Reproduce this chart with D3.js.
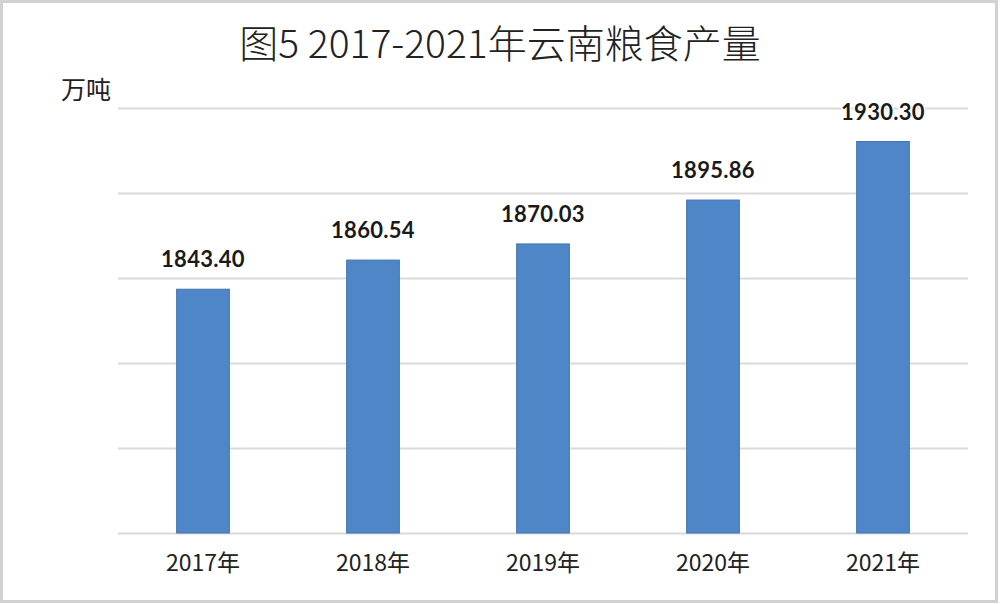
<!DOCTYPE html>
<html>
<head>
<meta charset="utf-8">
<script src="https://cdn.jsdelivr.net/npm/d3@7"></script>
<style>
  body { margin: 0; background: #fff; }
  svg { display: block; }
</style>
</head>
<body>
<div id="chart"></div>
<script>
// data
const years = ["2017年", "2018年", "2019年", "2020年", "2021年"];
const output = [1843.40, 1860.54, 1870.03, 1895.86, 1930.30];
const yTicks = [1700, 1750, 1800, 1850, 1900, 1950];

const W = 1000, H = 604;
const margin = { top: 108, right: 32, bottom: 71, left: 118 };
const width = W - margin.left - margin.right,
    height = H - margin.top - margin.bottom;

const svg = d3.select("#chart").append("svg")
    .attr("width", W)
    .attr("height", H);

// outer frame
svg.append("rect")
    .attr("x", 1.5).attr("y", 1.5)
    .attr("width", W - 5).attr("height", H - 4)
    .attr("fill", "#fff")
    .attr("stroke", "#d2d2d2")
    .attr("stroke-width", 3);

// title
svg.append("text")
    .attr("x", 500)
    .attr("y", 58)
    .attr("text-anchor", "middle")
    .style("font-family", "'Noto Sans CJK SC', 'Noto Sans', sans-serif")
    .style("font-size", "39px")
    .style("font-weight", 300)
    .attr("fill", "#222")
    .text("图5 2017-2021年云南粮食产量");

// unit
svg.append("text")
    .attr("x", 86)
    .attr("y", 99)
    .attr("text-anchor", "middle")
    .style("font-family", "'Noto Sans CJK SC', sans-serif")
    .style("font-size", "25px")
    .attr("fill", "#222")
    .text("万吨");

const g = svg.append("g")
    .attr("transform", "translate(" + margin.left + "," + margin.top + ")");

// scales
const x = d3.scaleBand()
    .domain(years)
    .range([0, width])
    .paddingInner(0.69)
    .paddingOuter(0.345);

const y = d3.scaleLinear()
    .domain([1700, 1950])
    .range([height, 0]);

// gridlines
g.append("g")
    .attr("class", "grid")
    .call(d3.axisLeft(y).tickValues(yTicks).tickSize(-width).tickFormat(""))
    .call(s => s.select(".domain").remove())
    .call(s => s.selectAll("line")
        .attr("stroke", "#d9d9d9")
        .attr("stroke-width", 2));

// bars
g.selectAll(".bar")
    .data(output)
    .enter().append("rect")
    .attr("class", "bar")
    .attr("x", (d, i) => x(years[i]))
    .attr("y", d => y(d))
    .attr("width", x.bandwidth())
    .attr("height", d => height - y(d))
    .attr("fill", "#4e86c7")
    .attr("stroke", "#4274b0")
    .attr("stroke-width", 1);

// value labels
g.selectAll(".label")
    .data(output)
    .enter().append("text")
    .attr("class", "label")
    .attr("x", (d, i) => x(years[i]) + x.bandwidth() / 2)
    .attr("y", d => y(d) - 22)
    .attr("text-anchor", "middle")
    .style("font-family", "Lato, 'Open Sans', sans-serif")
    .style("font-size", "22px")
    .style("font-weight", "bold")
    .style("letter-spacing", "0.3px")
    .style("paint-order", "stroke")
    .attr("stroke", "#fff")
    .attr("stroke-width", 3)
    .attr("fill", "#1a1a1a")
    .text(d => d.toFixed(2));

// x axis labels
g.append("g")
    .attr("transform", "translate(0," + height + ")")
    .call(d3.axisBottom(x).tickSize(0).tickPadding(22))
    .call(s => s.select(".domain").remove())
    .call(s => s.selectAll("text")
        .style("font-family", "'Noto Sans CJK SC', sans-serif")
        .style("font-size", "23px")
        .attr("fill", "#222"));
</script>
</body>
</html>
